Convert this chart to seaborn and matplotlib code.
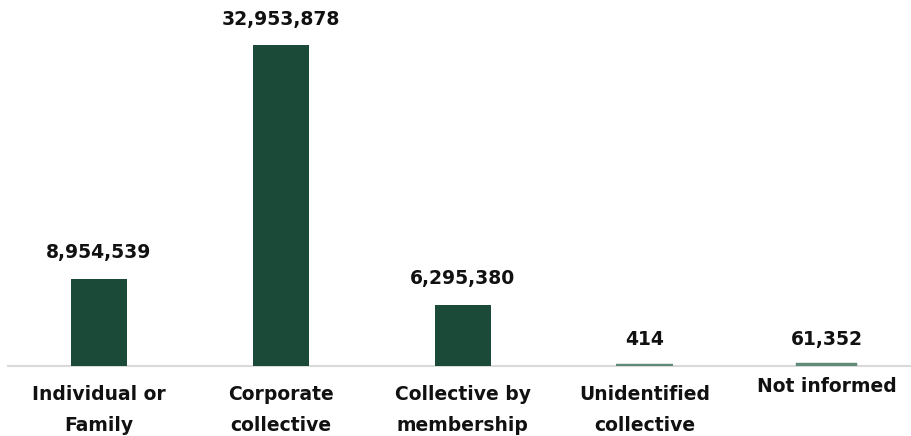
import matplotlib
matplotlib.use("Agg")
import matplotlib.pyplot as plt
import matplotlib.transforms as mtransforms
import seaborn as sns
import pandas as pd

categories = ["Individual or\nFamily", "Corporate\ncollective", "Collective by\nmembership",
              "Unidentified\ncollective", "Not informed"]
values = [8954539, 32953878, 6295380, 414, 61352]

sns.set_theme(style="white")
plt.rcParams['font.family'] = ['DejaVu Sans']

df = pd.DataFrame({"cat": categories, "val": values})

fig = plt.figure(figsize=(9.12, 4.36), dpi=100)
ax = fig.add_axes([8/912, 1 - 366/436, 1 - 8/912, 366/436])
sns.barplot(data=df, x="cat", y="val", color="#1b4a38", saturation=1, width=0.31, ax=ax)
for p in ax.patches:
    if p.get_height() < 200000:
        # tiny values drawn as a thin visible strip at the baseline
        p.set_edgecolor("#5f8a78")
        p.set_facecolor("#5f8a78")
        p.set_linewidth(3.2)
        p.set_zorder(3)
    else:
        p.set_edgecolor("#1b4a38")
        p.set_linewidth(0)

ax.set_ylim(0, 37.6e6)
ax.set_xlim(-0.5, 4.47)
for s in ["top", "right", "left"]:
    ax.spines[s].set_visible(False)
ax.spines["bottom"].set_color("#d9d9d9")
ax.spines["bottom"].set_linewidth(1.5)
ax.spines["bottom"].set_zorder(0)
ax.set_yticks([])
ax.set_xlabel("")
ax.set_ylabel("")
ax.tick_params(axis="x", length=0, pad=14)
for i, lbl in enumerate(ax.get_xticklabels()):
    lbl.set_fontweight("bold")
    lbl.set_fontsize(13.5)
    lbl.set_color("#111111")
    lbl.set_linespacing(1.75)
    if "\n" not in categories[i]:
        lbl.set_transform(lbl.get_transform() +
                          mtransforms.ScaledTranslation(0, 8/100, fig.dpi_scale_trans))

labels = [f"{v:,}" for v in values]
ax.bar_label(ax.containers[0], labels=labels, padding=12, fontsize=13.5,
             fontweight="bold", color="#111111")

fig.savefig("out.png", dpi=100)
